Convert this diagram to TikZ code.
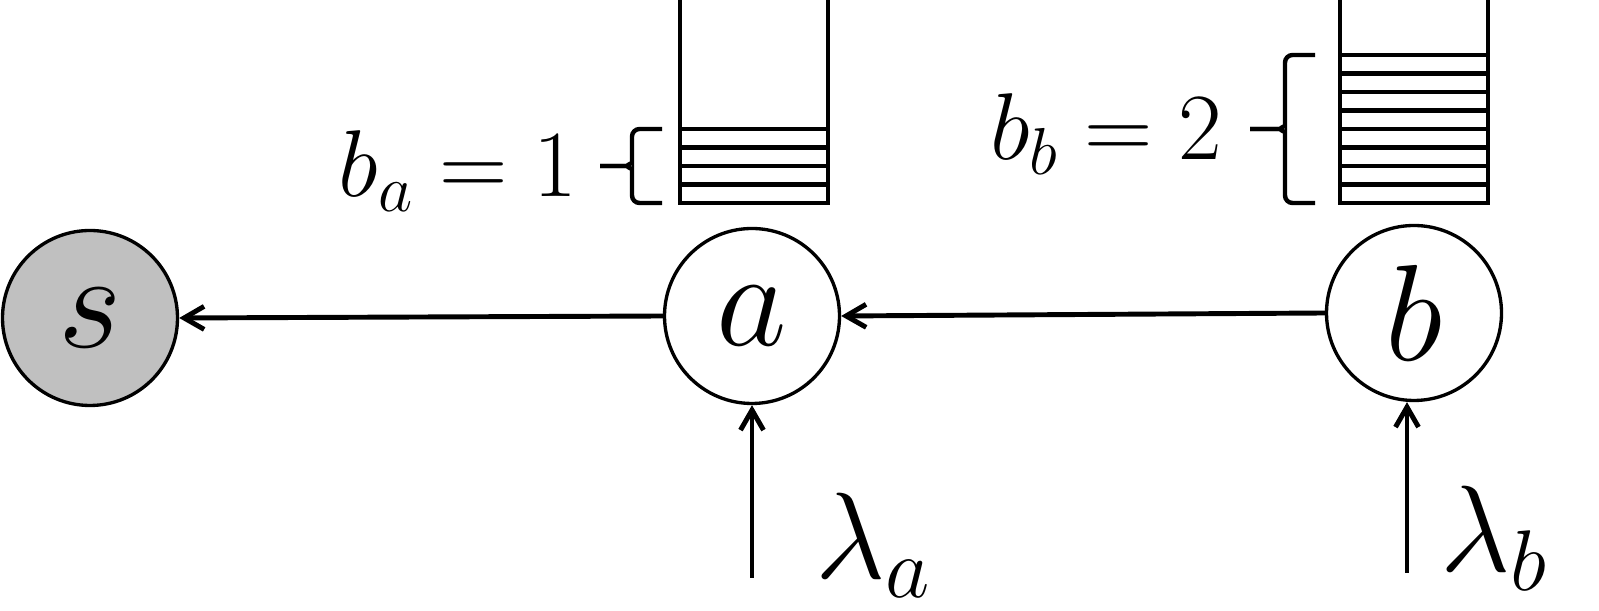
\RequirePackage{fix-cm}
\documentclass[tikz,border=0pt]{standalone}
\usetikzlibrary{arrows.meta}
\definecolor{sinkgray}{RGB}{192,192,192}

\begin{document}
\begin{tikzpicture}[>={Straight Barb[length=4mm,width=4.6mm]},
		station/.style={circle,draw=black,line width=1.9pt,minimum size=3.5cm,inner sep=0pt,font=\fontsize{78}{84}\selectfont},
		flow/.style={->,line width=2.8pt},
		slot/.style={line width=2.8pt},
		curly/.style={line width=2.5pt,rounded corners=1.5mm},
		buflabel/.style={inner sep=0pt,font=\fontsize{54}{60}\selectfont},
		ratelabel/.style={inner sep=0pt,font=\fontsize{70}{76}\selectfont}]
				\useasboundingbox (0,0) rectangle (31.98,12.22);

				\node[station,fill=sinkgray] (s) at (1.80, 5.86) {$s$};
				\node[station,fill=white] (a) at (15.04, 5.90) {$a$};
				\node[station,fill=white] (b) at (28.28, 5.96) {$b$};

				\draw[flow] (a.west) -- (s.east);
				\draw[flow] (b.west) -- (a.east);

				\coordinate (ina) at (15.04, 0.66);
				\coordinate (inb) at (28.14, 0.76);
				\draw[flow] (ina) -- (a.south);
				\draw[flow] (inb) -- (inb |- b.south);

				% buffers
				\draw[slot] (13.60, 12.40) -- (13.60, 8.16) -- (16.56, 8.16) -- (16.56, 12.40);
				\foreach \k in {1,...,4}
					\draw[slot] (13.60, 8.16+0.37*\k) -- (16.56, 8.16+0.37*\k);
				\draw[slot] (26.80, 12.40) -- (26.80, 8.16) -- (29.76, 8.16) -- (29.76, 12.40);
				\foreach \k in {1,...,8}
					\draw[slot] (26.80, 8.16+0.37*\k) -- (29.76, 8.16+0.37*\k);

				% braces
				\draw[curly] (13.24, 9.64) -- (12.64, 9.64) -- (12.64, 9.10)
					to[out=-90,in=0] (12.40, 8.90) -- (12.00, 8.90);
				\draw[curly] (13.24, 8.16) -- (12.64, 8.16) -- (12.64, 8.70)
					to[out=90,in=0] (12.40, 8.90) -- (12.00, 8.90);
				\draw[curly] (26.30, 11.12) -- (25.70, 11.12) -- (25.70, 9.84)
					to[out=-90,in=0] (25.46, 9.64) -- (25.00, 9.64);
				\draw[curly] (26.30, 8.16) -- (25.70, 8.16) -- (25.70, 9.44)
					to[out=90,in=0] (25.46, 9.64) -- (25.00, 9.64);

				\node[buflabel,anchor=base east] (bufa) at (11.56, 8.28) {$b_a = 1$};
				\node[buflabel,anchor=base east] (bufb) at (24.46, 9.02) {$b_b = 2$};
				\node[ratelabel,anchor=base west] (lama) at (16.30, 0.64) {$\lambda_a$};
				\node[ratelabel,anchor=base west] (lamb) at (28.80, 0.78) {$\lambda_b$};
			\end{tikzpicture}
\end{document}
